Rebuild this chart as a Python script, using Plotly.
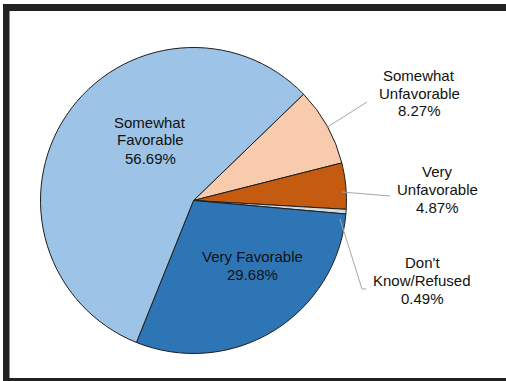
import plotly.graph_objects as go

# Data (clockwise order starting at the Somewhat Favorable / Somewhat Unfavorable boundary)
labels = ["Somewhat Unfavorable", "Very Unfavorable", "Don't Know/Refused", "Very Favorable", "Somewhat Favorable"]
label_lines = [["Somewhat", "Unfavorable"], ["Very", "Unfavorable"], ["Don't", "Know/Refused"], ["Very Favorable"], ["Somewhat", "Favorable"]]
values = [8.27, 4.87, 0.49, 29.68, 56.69]
colors = ["#F8CBAD", "#C55A11", "#D9D9D9", "#2E75B6", "#9DC3E6"]

W, H = 506, 381

def px(x):
    return x / W

def py(y):
    return 1 - y / H

cx, cy, r = 193.5, 200.5, 153

fig = go.Figure(go.Pie(
    labels=labels,
    values=values,
    sort=False,
    direction="clockwise",
    rotation=46,
    marker=dict(colors=colors, line=dict(color="#1e1e1e", width=1)),
    textinfo="none",
    hoverinfo="label+percent",
    showlegend=False,
    domain=dict(x=[px(cx - r), px(cx + r)], y=[py(cy + r), py(cy - r)]),
))

# first text line centre (pixel coords), line spacing 18px
label_pos = [(419, 75), (437, 171), (422, 262), (252, 256), (150, 122)]
line_gap = 18
leaders = [
    [(326, 128), (367, 102)],
    [(342, 192), (390, 196)],
    [(340, 219), (362, 289), (366, 289)],
    None,
    None,
]

annotations = []
for name_lines, v, (x, y) in zip(label_lines, values, label_pos):
    lines = name_lines + [f"{v:.2f}%"]
    for i, t in enumerate(lines):
        annotations.append(dict(
            x=px(x), y=py(y + i * line_gap), xref="paper", yref="paper",
            text=t, showarrow=False, align="center",
            xanchor="center", yanchor="middle",
            font=dict(family="Liberation Sans, Arial, sans-serif", size=15, color="#111111"),
        ))

shapes = []
for pts in leaders:
    if not pts:
        continue
    path = "M " + " L ".join(f"{px(x)},{py(y)}" for x, y in pts)
    shapes.append(dict(type="path", xref="paper", yref="paper", path=path,
                       line=dict(color="#A6A6A6", width=1)))

# dark frame
frame_color = "#222222"
shapes += [
    dict(type="rect", xref="paper", yref="paper", x0=px(3), x1=px(9.5), y0=py(381), y1=py(4),
         fillcolor=frame_color, line=dict(width=0), layer="above"),
    dict(type="rect", xref="paper", yref="paper", x0=px(3), x1=px(506), y0=py(11), y1=py(4),
         fillcolor=frame_color, line=dict(width=0), layer="above"),
    dict(type="rect", xref="paper", yref="paper", x0=px(3), x1=px(506), y0=py(381), y1=py(378),
         fillcolor=frame_color, line=dict(width=0), layer="above"),
]

fig.update_layout(
    width=W, height=H,
    margin=dict(l=0, r=0, t=0, b=0),
    paper_bgcolor="white",
    plot_bgcolor="white",
    annotations=annotations,
    shapes=shapes,
)

fig.write_html(
    "out.html",
    config={"displayModeBar": False},
    post_script="document.body.style.margin='0';document.body.style.overflow='hidden';",
)
